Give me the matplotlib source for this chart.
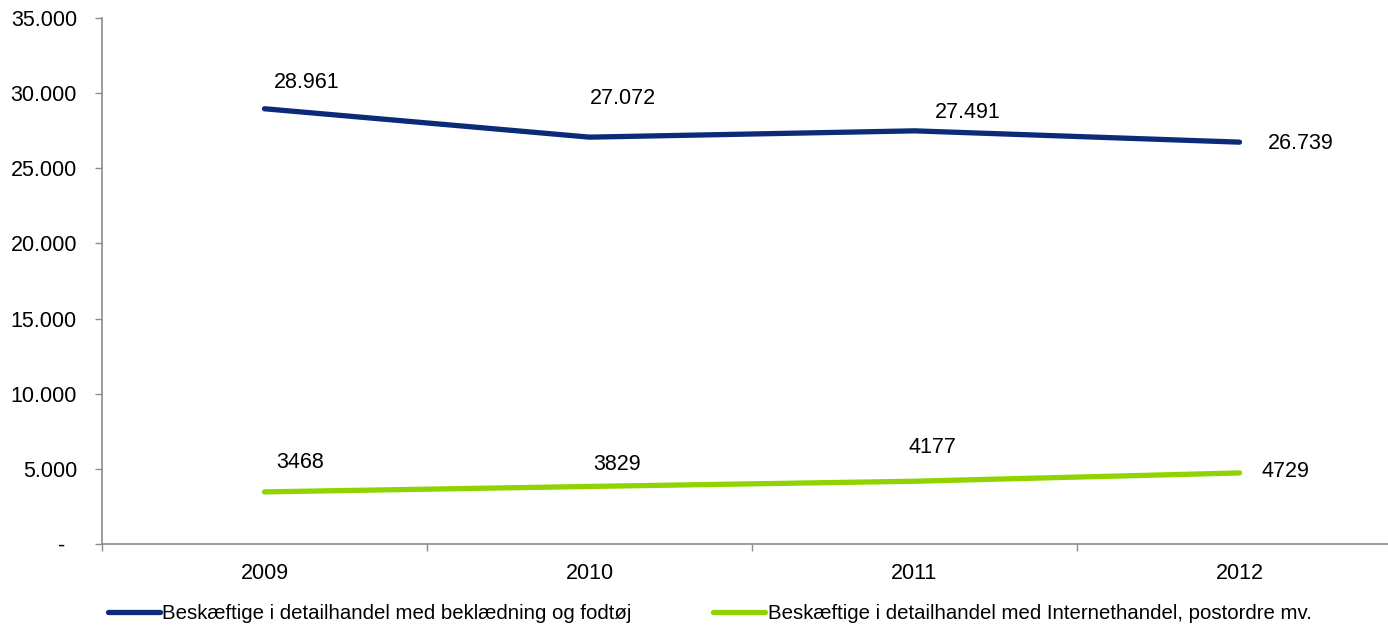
import matplotlib
matplotlib.use("Agg")
import matplotlib.pyplot as plt
from matplotlib.ticker import FixedLocator, FuncFormatter

plt.rcParams['font.family'] = ['Liberation Sans', 'DejaVu Sans']

years = ["2009", "2010", "2011", "2012"]
clothing = [28961, 27072, 27491, 26739]
online = [3468, 3829, 4177, 4729]
clothing_labels = ["28.961", "27.072", "27.491", "26.739"]
online_labels = ["3468", "3829", "4177", "4729"]
series_names = ["Beskæftige i detailhandel med beklædning og fodtøj",
                "Beskæftige i detailhandel med Internethandel, postordre mv."]
yticks = [0, 5000, 10000, 15000, 20000, 25000, 30000, 35000]

navy = "#0B2A78"
green = "#8FD400"
gray = "#8C8C8C"
FS = 15.5

W, H = 1388, 630
fig = plt.figure(figsize=(W / 100, H / 100), dpi=100)
ax = fig.add_axes([102 / W, 86 / H, 1300 / W, 526 / H])

x = list(range(len(years)))
l1, = ax.plot(x, clothing, color=navy, lw=3.8, solid_capstyle='round')
l2, = ax.plot(x, online, color=green, lw=3.8, solid_capstyle='round')

clothing_off = [(42, 26), (33, 39), (53, 18), (61, -1)]
online_off = [(36, 29), (28, 22), (18, 34), (46, 1)]
for xi, v, lab, off in zip(x, clothing, clothing_labels, clothing_off):
    ax.annotate(lab, (xi, v), xytext=off, textcoords='offset pixels',
                ha='center', va='center', fontsize=FS, color='black')
for xi, v, lab, off in zip(x, online, online_labels, online_off):
    ax.annotate(lab, (xi, v), xytext=off, textcoords='offset pixels',
                ha='center', va='center', fontsize=FS, color='black')

ax.set_xlim(-0.5, 3.5)
ax.set_ylim(0, 35000)
ax.set_yticks(yticks)
ax.yaxis.set_major_formatter(FuncFormatter(
    lambda v, p: "-  " if v == 0 else f"{int(v):,}".replace(",", ".")))
ax.set_xticks(x)
ax.set_xticklabels(years)
ax.xaxis.set_minor_locator(FixedLocator([-0.5, 0.5, 1.5, 2.5, 3.5]))
ax.tick_params(axis='x', which='major', length=0, labelsize=FS, pad=14)
ax.tick_params(axis='x', which='minor', length=5, color=gray, width=1, direction='out')
ax.tick_params(axis='y', length=5, color=gray, width=1, labelsize=FS, pad=13)
for s in ['top', 'right']:
    ax.spines[s].set_visible(False)
for s in ['left', 'bottom']:
    ax.spines[s].set_color(gray)
    ax.spines[s].set_linewidth(1.2)

fig.legend([l1, l2], series_names, loc='lower left', bbox_to_anchor=(96 / W, -5 / H),
           ncol=2, frameon=False, fontsize=14.7, handlelength=2.55, handletextpad=0.1,
           columnspacing=4.0, borderaxespad=0.2)

fig.savefig("out.png", dpi=100)
